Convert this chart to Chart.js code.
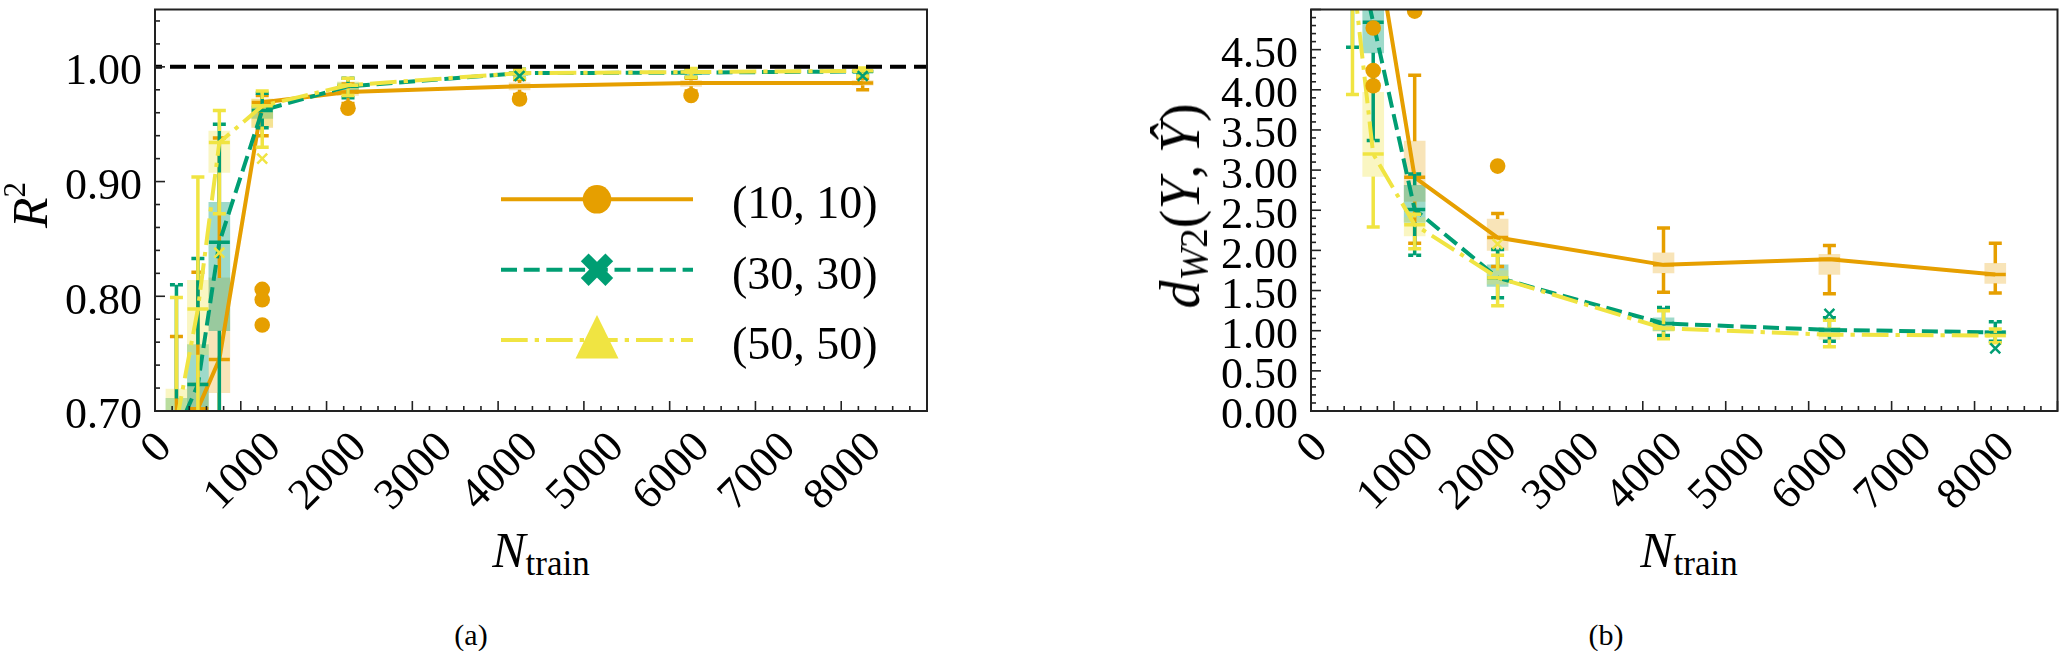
<!DOCTYPE html>
<html>
<head>
<meta charset="utf-8">
<script src="https://cdn.jsdelivr.net/npm/chart.js@4.4.1/dist/chart.umd.min.js"></script>
<style>
  body { margin: 0; background: #fff; width: 2067px; height: 651px; position: relative; overflow: hidden;
         font-family: "Liberation Serif", "Times New Roman", serif; color: #000; }
  .wrap { position: absolute; top: 0; height: 520px; }
  .ttl { position: absolute; white-space: nowrap; line-height: 1; font-size: 50px; }
  .ttl sub { font-size: 70%; line-height: 0; vertical-align: -8px; }
  .ttl sup { font-size: 62%; line-height: 0; vertical-align: 22px; }
  .cap { position: absolute; white-space: nowrap; line-height: 1; font-size: 30px; transform: translateX(-50%); }
</style>
</head>
<body>
<div class="wrap" style="left:0;width:960px"><canvas id="chartA"></canvas></div>
<div class="wrap" style="left:1160px;width:907px"><canvas id="chartB"></canvas></div>

<div class="ttl" style="left:30px;top:205px;transform:translate(-50%,-50%) rotate(-90deg)"><i>R</i><sup>2</sup></div>
<div class="ttl" style="left:1180px;top:206px;font-size:56px;transform:translate(-50%,-50%) rotate(-90deg)"><i>d</i><sub><i>W</i>2</sub>(<i>Y</i>,&#8201;<i>Ŷ</i>)</div>
<div class="ttl" style="left:541px;top:525px;transform:translateX(-50%)"><i>N</i><sub>train</sub></div>
<div class="ttl" style="left:1689px;top:525px;transform:translateX(-50%)"><i>N</i><sub>train</sub></div>
<div class="cap" style="left:471px;top:620px">(a)</div>
<div class="cap" style="left:1606px;top:620px">(b)</div>

<script>
// training set sizes and series
const nTrain = [250, 500, 750, 1250, 2250, 4250, 6250, 8250];
const seriesNames = ["(10, 10)", "(30, 30)", "(50, 50)"];
const xTicks = [0, 1000, 2000, 3000, 4000, 5000, 6000, 7000, 8000];
const r2Ticks = [0.70, 0.80, 0.90, 1.00];
const dwTicks = [0.00, 0.50, 1.00, 1.50, 2.00, 2.50, 3.00, 3.50, 4.00, 4.50];
const r2Perfect = 1.0;

// (a) R^2 : median, quartiles, whisker ends, outliers
const r2Med10 = [0.62, 0.702, 0.745, 0.969, 0.978, 0.983, 0.986, 0.986];
const r2Q1_10 = [0.58, 0.660, 0.716, 0.947, 0.975, 0.980, 0.983, 0.984];
const r2Q3_10 = [0.66, 0.725, 0.816, 0.972, 0.981, 0.986, 0.988, 0.988];
const r2Lo10  = [0.50, 0.600, 0.620, 0.940, 0.968, 0.976, 0.979, 0.980];
const r2Hi10  = [0.765, 0.821, 0.938, 0.975, 0.985, 0.989, 0.990, 0.990];
const r2Out10 = [[1250, 0.806], [1250, 0.797], [1250, 0.775], [2250, 0.964], [4250, 0.972], [6250, 0.975]];

const r2Med30 = [0.68, 0.723, 0.847, 0.962, 0.983, 0.9945, 0.995, 0.996];
const r2Q1_30 = [0.65, 0.690, 0.770, 0.955, 0.980, 0.993, 0.9935, 0.995];
const r2Q3_30 = [0.711, 0.758, 0.882, 0.966, 0.986, 0.996, 0.9965, 0.997];
const r2Lo30  = [0.55, 0.600, 0.620, 0.947, 0.973, 0.990, 0.991, 0.993];
const r2Hi30  = [0.810, 0.833, 0.950, 0.977, 0.990, 0.998, 0.998, 0.998];
const r2Out30 = [[4250, 0.992], [8250, 0.992]];

const r2Med50 = [0.69, 0.789, 0.934, 0.966, 0.984, 0.9945, 0.9955, 0.9965];
const r2Q1_50 = [0.66, 0.749, 0.908, 0.948, 0.981, 0.993, 0.994, 0.995];
const r2Q3_50 = [0.719, 0.814, 0.944, 0.972, 0.987, 0.996, 0.997, 0.998];
const r2Lo50  = [0.56, 0.620, 0.872, 0.930, 0.975, 0.990, 0.991, 0.992];
const r2Hi50  = [0.799, 0.904, 0.962, 0.979, 0.990, 0.998, 0.9985, 0.999];
const r2Out50 = [[750, 0.838], [1250, 0.920]];

// (b) d_W2
const dwMed10 = [9.0, 7.0, 6.05, 2.91, 2.16, 1.82, 1.89, 1.70];
const dwQ1_10 = [8.0, 6.3, 5.60, 2.61, 2.00, 1.72, 1.70, 1.59];
const dwQ3_10 = [10.0, 7.8, 6.60, 3.36, 2.39, 1.97, 1.95, 1.84];
const dwLo10  = [6.5, 5.5, 5.20, 2.09, 1.80, 1.48, 1.46, 1.47];
const dwHi10  = [12.0, 9.0, 8.00, 4.18, 2.46, 2.28, 2.06, 2.09];
const dwOut10 = [[750, 4.77], [750, 4.24], [750, 4.05], [1250, 4.98], [2250, 3.05]];

const dwMed30 = [7.0, 6.0, 4.84, 2.51, 1.66, 1.09, 1.01, 0.98];
const dwQ1_30 = [6.0, 5.2, 4.46, 2.35, 1.55, 1.00, 0.97, 0.95];
const dwQ3_30 = [8.0, 6.8, 5.40, 2.81, 1.82, 1.16, 1.04, 1.00];
const dwLo30  = [5.3, 4.53, 3.37, 1.94, 1.41, 0.94, 0.87, 0.87];
const dwHi30  = [9.0, 8.0, 6.00, 2.95, 2.01, 1.29, 1.16, 1.11];
const dwOut30 = [[6250, 1.21], [8250, 0.78]];

const dwMed50 = [7.5, 5.5, 3.20, 2.32, 1.66, 1.03, 0.95, 0.94];
const dwQ1_50 = [6.8, 5.1, 2.92, 2.18, 1.58, 0.99, 0.89, 0.92];
const dwQ3_50 = [8.5, 6.3, 3.97, 2.41, 1.75, 1.08, 1.04, 0.97];
const dwLo50  = [5.5, 3.94, 2.29, 2.02, 1.31, 0.90, 0.80, 0.85];
const dwHi50  = [10.0, 8.0, 4.00, 2.45, 1.94, 1.25, 1.13, 1.02];
const dwOut50 = [[2250, 2.08]];

// styles
const FONT = '"Liberation Serif", "Times New Roman", serif';
const colors = ["#E69F00", "#009E73", "#F0E442"];
const boxFills = ["rgba(230,159,0,0.28)", "rgba(0,158,115,0.38)", "rgba(240,228,66,0.32)"];
const dashes = [[], [16, 6.7], [26.7, 7, 4.3, 7]];
const capDashes = [[], [5, 3], []];

function seg(ctx, x1, y1, x2, y2) {
  ctx.beginPath(); ctx.moveTo(x1, y1); ctx.lineTo(x2, y2); ctx.stroke();
}

function drawMarker(ctx, i, x, y) {
  ctx.save();
  ctx.fillStyle = colors[i]; ctx.strokeStyle = colors[i];
  if (i === 0) {
    ctx.beginPath(); ctx.arc(x, y, 14.3, 0, Math.PI * 2); ctx.fill();
  } else if (i === 1) {
    ctx.lineWidth = 11; ctx.lineCap = "butt";
    seg(ctx, x - 12.3, y - 12.3, x + 12.3, y + 12.3);
    seg(ctx, x - 12.3, y + 12.3, x + 12.3, y - 12.3);
  } else {
    ctx.beginPath(); ctx.moveTo(x, y - 25); ctx.lineTo(x + 21.5, y + 18.3); ctx.lineTo(x - 21.5, y + 18.3);
    ctx.closePath(); ctx.fill();
  }
  ctx.restore();
}

// whiskers, caps, medians, frame, inward ticks, tick labels, legend
function makeDecor(cfg) {
  return {
    id: "decor",
    afterDatasetDraw(chart, args) {
      const ds = chart.data.datasets[args.index];
      if (!ds.stats) return;
      const { ctx, chartArea: a } = chart;
      const xs = chart.scales.x, ys = chart.scales.y;
      const s = ds.stats;
      const py = v => ys.getPixelForValue(v);
      ctx.save();
      ctx.beginPath(); ctx.rect(a.left, a.top, a.right - a.left, a.bottom - a.top); ctx.clip();
      ctx.strokeStyle = ds.borderColor; ctx.lineWidth = 3.5; ctx.lineCap = "butt";
      nTrain.forEach((n, i) => {
        const px = xs.getPixelForValue(n);
        ctx.setLineDash([]);
        seg(ctx, px, py(s.q1[i]), px, py(s.lo[i]));
        seg(ctx, px, py(s.q3[i]), px, py(s.hi[i]));
        ctx.setLineDash(s.capDash);
        seg(ctx, px - 6.5, py(s.lo[i]), px + 6.5, py(s.lo[i]));
        seg(ctx, px - 6.5, py(s.hi[i]), px + 6.5, py(s.hi[i]));
        ctx.setLineDash([]);
        seg(ctx, px - 10.5, py(s.med[i]), px + 10.5, py(s.med[i]));
      });
      ctx.restore();
    },
    afterDraw(chart) {
      const { ctx, chartArea: a } = chart;
      const xs = chart.scales.x, ys = chart.scales.y;
      ctx.save();
      ctx.strokeStyle = "#222"; ctx.lineWidth = 1.6;
      for (let k = 0; k * 200 <= xs.max; k++) {
        const px = xs.getPixelForValue(k * 200);
        seg(ctx, px, a.bottom, px, a.bottom - (k % 5 === 0 ? 10 : 5));
      }
      const nMinor = Math.round((ys.max - ys.min) / cfg.yMinor);
      for (let k = 0; k <= nMinor; k++) {
        const v = ys.min + k * cfg.yMinor;
        const r = v / cfg.yMajor;
        const major = Math.abs(r - Math.round(r)) < 1e-6;
        const p = ys.getPixelForValue(v);
        seg(ctx, a.left, p, a.left + (major ? 10 : 5), p);
      }
      ctx.lineWidth = 2;
      ctx.strokeRect(a.left, a.top, a.right - a.left, a.bottom - a.top);

      ctx.fillStyle = "#000";
      ctx.font = "44px " + FONT;
      const h = 0.68 * 44;
      xTicks.forEach(t => {
        const label = String(t);
        const w = ctx.measureText(label).width;
        const size = (w + h) / Math.SQRT2;
        ctx.save();
        ctx.translate(xs.getPixelForValue(t), a.bottom + 17 + size / 2);
        ctx.rotate(-Math.PI / 4);
        ctx.textAlign = "center"; ctx.textBaseline = "alphabetic";
        ctx.fillText(label, 0, h / 2);
        ctx.restore();
      });
      ctx.textAlign = "right"; ctx.textBaseline = "alphabetic";
      cfg.yTicks.forEach(t => {
        ctx.fillText(t.toFixed(2), a.left - 13, ys.getPixelForValue(t) + 17.4);
      });

      if (cfg.legend) {
        const lg = cfg.legend;
        ctx.font = "46px " + FONT;
        ctx.textAlign = "left";
        seriesNames.forEach((name, i) => {
          const y = lg.y0 + i * lg.dy;
          ctx.save();
          ctx.strokeStyle = colors[i]; ctx.lineWidth = 4; ctx.setLineDash(dashes[i]);
          seg(ctx, lg.x1, y, lg.x2, y);
          ctx.restore();
          drawMarker(ctx, i, lg.mx, y);
          ctx.fillStyle = "#000";
          ctx.fillText(name, lg.tx, y + 19);
        });
      }
      ctx.restore();
    }
  };
}

function buildDatasets(med, q1, q3, lo, hi, outs) {
  const sets = [];
  for (let i = 0; i < 3; i++) {
    sets.push({
      type: "bar",
      data: nTrain.map((n, j) => ({ x: n, y: [q1[i][j], q3[i][j]] })),
      backgroundColor: boxFills[i], borderWidth: 0, barThickness: 21, grouped: false,
      order: 3.3 - i * 0.1
    });
    sets.push({
      type: "line", label: seriesNames[i],
      data: nTrain.map((n, j) => ({ x: n, y: med[i][j] })),
      borderColor: colors[i], borderWidth: 4, borderDash: dashes[i],
      pointRadius: 0, fill: false, tension: 0,
      order: 2.3 - i * 0.1,
      stats: { med: med[i], q1: q1[i], q3: q3[i], lo: lo[i], hi: hi[i], capDash: capDashes[i] }
    });
    sets.push({
      type: "line", showLine: false,
      data: outs[i].map(([x, y]) => ({ x, y })),
      pointStyle: i === 0 ? "circle" : "crossRot",
      pointRadius: i === 0 ? 7.8 : 7,
      pointBackgroundColor: colors[i], pointBorderColor: colors[i],
      pointBorderWidth: i === 0 ? 0 : 2.5,
      order: 1.3 - i * 0.1
    });
  }
  return sets;
}

function baseOptions(yMin, yMax, yWidth, padRight) {
  return {
    responsive: true, maintainAspectRatio: false, animation: false,
    layout: { padding: { left: 0, top: 1, right: padRight, bottom: 0 } },
    plugins: { legend: { display: false }, tooltip: { enabled: false } },
    scales: {
      x: {
        type: "linear", min: 0, max: 9000, offset: false,
        grid: { display: false, drawTicks: false }, border: { display: false }, ticks: { display: false },
        afterFit: s => { s.height = 109; s.paddingLeft = 0; s.paddingRight = 0; }
      },
      y: {
        type: "linear", min: yMin, max: yMax,
        grid: { display: false, drawTicks: false }, border: { display: false }, ticks: { display: false },
        afterFit: s => { s.width = yWidth; s.paddingTop = 0; s.paddingBottom = 0; }
      }
    }
  };
}

const setsA = buildDatasets(
  [r2Med10, r2Med30, r2Med50], [r2Q1_10, r2Q1_30, r2Q1_50], [r2Q3_10, r2Q3_30, r2Q3_50],
  [r2Lo10, r2Lo30, r2Lo50], [r2Hi10, r2Hi30, r2Hi50], [r2Out10, r2Out30, r2Out50]);
setsA.push({
  type: "line", data: [{ x: 0, y: r2Perfect }, { x: 9000, y: r2Perfect }],
  borderColor: "#000", borderWidth: 4, borderDash: [16, 8], borderDashOffset: 9, pointRadius: 0, order: 0
});

new Chart(document.getElementById("chartA"), {
  type: "line",
  data: { datasets: setsA },
  options: baseOptions(0.70, 1.05, 155, 33),
  plugins: [makeDecor({
    yTicks: r2Ticks, yMinor: 0.02, yMajor: 0.1,
    legend: { x1: 501, x2: 693, mx: 597, tx: 732, y0: 199.3, dy: 70.4 }
  })]
});

const setsB = buildDatasets(
  [dwMed10, dwMed30, dwMed50], [dwQ1_10, dwQ1_30, dwQ1_50], [dwQ3_10, dwQ3_30, dwQ3_50],
  [dwLo10, dwLo30, dwLo50], [dwHi10, dwHi30, dwHi50], [dwOut10, dwOut30, dwOut50]);

new Chart(document.getElementById("chartB"), {
  type: "line",
  data: { datasets: setsB },
  options: baseOptions(0, 5.0, 151, 1),
  plugins: [makeDecor({ yTicks: dwTicks, yMinor: 0.1, yMajor: 0.5, legend: null })]
});
</script>
</body>
</html>
